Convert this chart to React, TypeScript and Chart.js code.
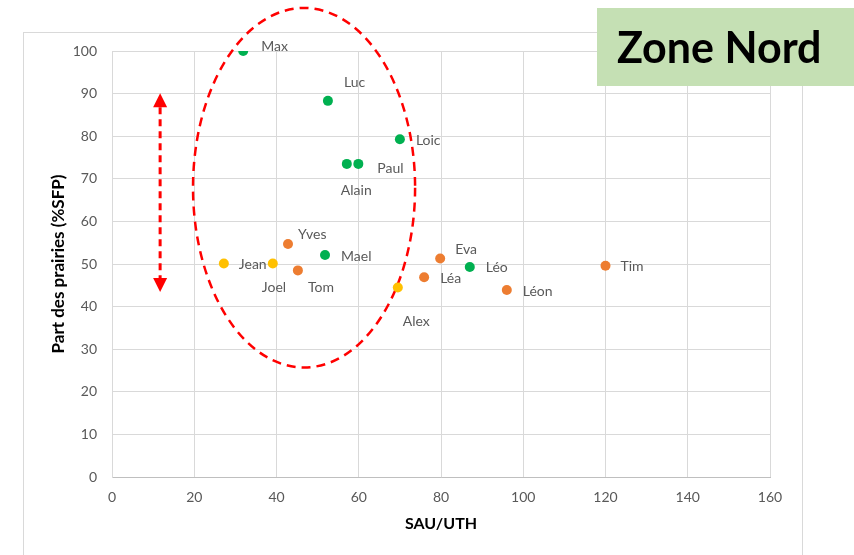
import React, { useEffect, useRef } from "react";
import { Chart, registerables } from "chart.js";

Chart.register(...registerables);

// ---- Data ----
const farmNames = ["Max", "Luc", "Loic", "Alain", "Paul", "Mael", "Léo", "Yves", "Tom", "Eva", "Léa", "Léon", "Tim", "Jean", "Joel", "Alex"];
const sauPerUth = [31.9, 52.5, 70, 57.1, 59.9, 51.8, 87, 42.8, 45.2, 79.8, 75.9, 96, 120, 27.2, 39.1, 69.5];
const prairiesShare = [100, 88.3, 79.3, 73.5, 73.5, 52.1, 49.3, 54.7, 48.5, 51.3, 46.9, 43.9, 49.6, 50.1, 50.1, 44.5];
const farmGroup = ["vert", "vert", "vert", "vert", "vert", "vert", "vert", "orange", "orange", "orange", "orange", "orange", "orange", "jaune", "jaune", "jaune"];

const groups = ["vert", "orange", "jaune"];
const groupColors: Record<string, string> = { vert: "#00b050", orange: "#ed7d31", jaune: "#ffc000" };

const xTicks = { min: 0, max: 160, step: 20 };
const yTicks = { min: 0, max: 100, step: 10 };

const xTitle = "SAU/UTH";
const yTitle = "Part des prairies (%SFP)";
const zoneTitle = "Zone Nord";

// label placement relative to the marker (pixels: dx to text start, dy to text middle)
const labelOffsets: [number, number][] = [
  [18, -5], [16, -18], [16, 1], [-6, 27], [19, 5], [16, 1], [16, 1],
  [10, -9], [10, 17], [15, -9], [16, 1], [16, 1], [15, 1],
  [15, 1], [-11, 24], [5, 34],
];

// highlight ellipse (data units) and double arrow (data units)
const ellipseCenter = { x: 46.7, y: 67.9 };
const ellipseRadii = { x: 27, y: 42.2 };
const arrowX = 11.7;
const arrowRange = [43.4, 90.1];

const FONT = "Lato, 'Open Sans', sans-serif";

export default function App() {
  const canvasRef = useRef<HTMLCanvasElement | null>(null);

  useEffect(() => {
    document.body.style.margin = "0";
    const canvas = canvasRef.current;
    if (!canvas) return;

    const datasets = groups.map((g) => {
      const idx = farmGroup.map((v, i) => (v === g ? i : -1)).filter((i) => i >= 0);
      return {
        label: g,
        data: idx.map((i) => ({ x: sauPerUth[i], y: prairiesShare[i], name: farmNames[i], idx: i })),
        backgroundColor: groupColors[g],
        borderColor: groupColors[g],
        borderWidth: 0,
        pointRadius: 5,
        pointHoverRadius: 5,
      };
    });

    const decorPlugin = {
      id: "decor",
      beforeDraw(chart: any) {
        const ctx = chart.ctx;
        ctx.save();
        ctx.fillStyle = "#ffffff";
        ctx.fillRect(0, 0, chart.width, chart.height);
        ctx.strokeStyle = "#d9d9d9";
        ctx.lineWidth = 1;
        ctx.strokeRect(23.5, 32.5, 779, 600);
        ctx.restore();
      },
      beforeDatasetsDraw(chart: any) {
        const ctx = chart.ctx;
        const xs = chart.scales.x;
        const ys = chart.scales.y;
        ctx.save();
        // ellipse
        const cx = xs.getPixelForValue(ellipseCenter.x);
        const cy = ys.getPixelForValue(ellipseCenter.y);
        const rx = Math.abs(xs.getPixelForValue(ellipseCenter.x + ellipseRadii.x) - cx);
        const ry = Math.abs(ys.getPixelForValue(ellipseCenter.y + ellipseRadii.y) - cy);
        ctx.strokeStyle = "#ff0000";
        ctx.lineWidth = 2.5;
        ctx.setLineDash([9, 6]);
        ctx.beginPath();
        ctx.ellipse(cx, cy, rx, ry, 0, 0, Math.PI * 2);
        ctx.stroke();
        // arrow
        const ax = xs.getPixelForValue(arrowX);
        const yTop = ys.getPixelForValue(arrowRange[1]);
        const yBot = ys.getPixelForValue(arrowRange[0]);
        const head = 14;
        const hw = 7;
        ctx.lineWidth = 3;
        ctx.setLineDash([7, 5]);
        ctx.beginPath();
        ctx.moveTo(ax, yTop + head);
        ctx.lineTo(ax, yBot - head);
        ctx.stroke();
        ctx.setLineDash([]);
        ctx.fillStyle = "#ff0000";
        ctx.beginPath();
        ctx.moveTo(ax, yTop);
        ctx.lineTo(ax - hw, yTop + head);
        ctx.lineTo(ax + hw, yTop + head);
        ctx.closePath();
        ctx.fill();
        ctx.beginPath();
        ctx.moveTo(ax, yBot);
        ctx.lineTo(ax - hw, yBot - head);
        ctx.lineTo(ax + hw, yBot - head);
        ctx.closePath();
        ctx.fill();
        ctx.restore();
      },
      afterDatasetsDraw(chart: any) {
        const ctx = chart.ctx;
        ctx.save();
        ctx.font = `14px ${FONT}`;
        ctx.fillStyle = "#595959";
        ctx.textAlign = "left";
        ctx.textBaseline = "middle";
        chart.data.datasets.forEach((ds: any, di: number) => {
          const meta = chart.getDatasetMeta(di);
          meta.data.forEach((pt: any, pi: number) => {
            const d = ds.data[pi];
            const [dx, dy] = labelOffsets[d.idx];
            ctx.fillText(d.name, pt.x + dx, pt.y + dy);
          });
        });
        ctx.restore();
      },
      afterDraw(chart: any) {
        const ctx = chart.ctx;
        ctx.save();
        ctx.fillStyle = "#c5e0b4";
        ctx.fillRect(597, 8, 260, 78);
        ctx.fillStyle = "#000000";
        ctx.font = `bold 43px ${FONT}`;
        ctx.textAlign = "left";
        ctx.textBaseline = "alphabetic";
        ctx.fillText(zoneTitle, 617, 63);
        ctx.restore();
      },
    };

    const chart = new Chart(canvas, {
      type: "scatter",
      data: { datasets } as any,
      options: {
        animation: false,
        responsive: false,
        maintainAspectRatio: false,
        layout: { padding: { left: 0, top: 51, right: 84, bottom: 0 } },
        plugins: { legend: { display: false }, tooltip: { enabled: false }, title: { display: false } },
        scales: {
          x: {
            type: "linear",
            min: xTicks.min,
            max: xTicks.max,
            afterFit: (s: any) => { s.height = 78; },
            ticks: { stepSize: xTicks.step, color: "#595959", font: { family: FONT, size: 14 }, padding: 12 },
            grid: { color: "#d9d9d9", drawTicks: false, lineWidth: 1 },
            border: { color: "#bfbfbf" },
            title: { display: true, text: xTitle, color: "#000000", font: { family: FONT, size: 16, weight: "bold" }, padding: { top: 0, bottom: 22 } },
          },
          y: {
            type: "linear",
            min: yTicks.min,
            max: yTicks.max,
            afterFit: (s: any) => { s.width = 112; },
            ticks: { stepSize: yTicks.step, color: "#595959", font: { family: FONT, size: 14 }, padding: 15 },
            grid: { color: "#d9d9d9", drawTicks: false, lineWidth: 1 },
            border: { color: "#d9d9d9" },
            title: { display: true, text: yTitle, color: "#000000", font: { family: FONT, size: 17, weight: "bold" }, padding: { top: 48, bottom: 0 } },
          },
        },
      } as any,
      plugins: [decorPlugin],
    });

    return () => chart.destroy();
  }, []);

  return (
    <div style={{ width: 854, height: 555, position: "relative" }}>
      <canvas ref={canvasRef} width={854} height={555} style={{ width: 854, height: 555, display: "block" }} />
    </div>
  );
}
